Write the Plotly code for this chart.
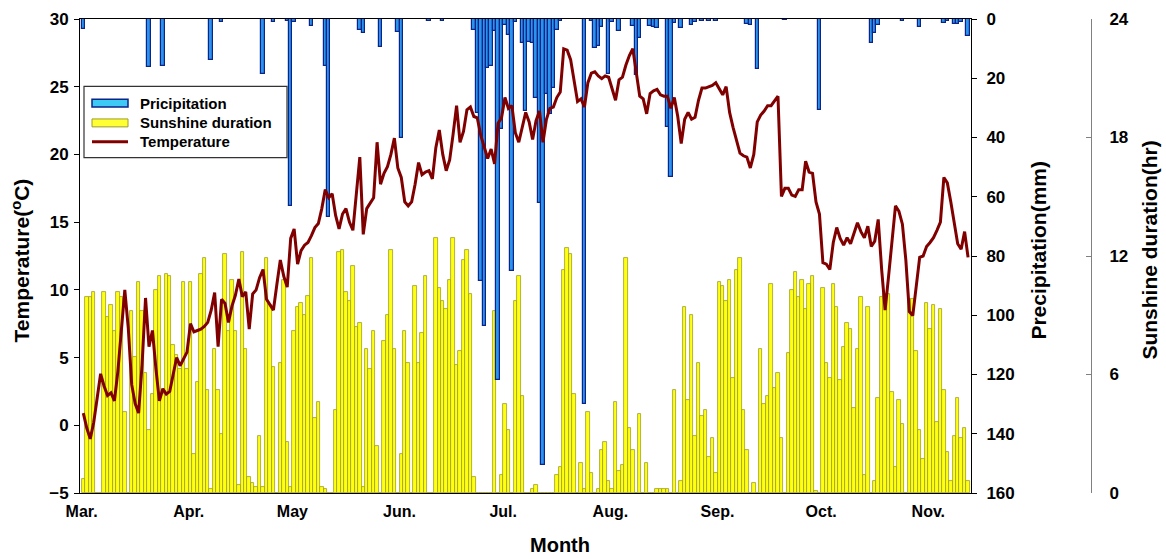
import pandas as pd
import plotly.graph_objects as go

# Daily mean air temperature (°C), 1 March onward
temperature = [
    0.9, -0.2, -1.0, 0.2, 2.0, 3.8, 2.9, 2.2, 2.4, 1.8,
    4.0, 7.0, 10.0, 7.2, 3.0, 1.6, 0.9, 4.5, 9.4, 5.8,
    7.0, 4.2, 1.8, 2.7, 2.3, 2.5, 3.9, 5.0, 4.4, 4.9,
    5.4, 7.5, 6.9, 7.0, 7.1, 7.3, 7.6, 8.5, 9.8, 5.8,
    9.3, 9.0, 7.6, 8.8, 9.6, 10.8, 9.5, 9.85, 7.1, 9.7,
    10.0, 10.9, 11.5, 9.3, 8.9, 8.5, 10.4, 12.2, 11.0, 10.2,
    13.8, 14.5, 11.9, 12.9, 13.3, 13.5, 14.0, 14.6, 14.9, 16.0,
    17.4, 16.8, 17.1, 15.5, 14.5, 15.6, 16.0, 15.0, 14.4, 17.2,
    19.8, 14.1, 16.0, 16.4, 16.8, 20.9, 17.8, 18.6, 19.1, 20.0,
    21.2, 19.0, 18.3, 16.5, 16.2, 16.5, 17.8, 19.4, 18.5, 18.7,
    18.8, 18.2, 20.5, 21.8, 20.0, 18.8, 19.6, 21.5, 23.6, 20.9,
    21.7, 23.3, 23.5, 22.8, 22.7, 21.4, 20.5, 19.7, 20.4, 19.3,
    22.3, 22.7, 24.2, 23.4, 23.6, 21.6, 20.9, 22.0, 23.1, 22.4,
    21.1, 22.5, 23.2, 20.9, 22.6, 23.4, 23.5, 24.2, 24.6, 27.8,
    27.7, 27.0, 25.3, 23.9, 24.1, 23.5, 25.3, 26.0, 26.1, 25.8,
    25.6, 25.8, 25.7, 24.8, 24.0, 25.5, 25.7, 26.6, 27.3, 27.8,
    26.0, 24.3, 24.1, 23.0, 24.5, 24.7, 24.8, 24.4, 24.3, 24.3,
    23.4, 24.2, 22.8, 20.8, 22.6, 23.1, 22.6, 22.75, 24.0, 24.9,
    24.9, 25.0, 25.1, 25.3, 24.8, 24.4, 25.0, 23.1, 22.0, 21.0,
    20.1, 19.9, 19.8, 19.0, 20.0, 22.4, 22.9, 23.2, 23.6, 23.6,
    24.0, 24.3, 16.9, 17.5, 17.5, 17.0, 16.9, 17.4, 17.4, 19.5,
    18.7, 18.6, 16.5, 15.6, 12.0, 11.9, 11.5, 13.5, 14.6, 13.8,
    13.3, 13.85, 13.4, 14.2, 14.95, 14.3, 13.85, 14.7, 13.2, 13.6,
    15.2, 11.5, 8.5, 11.0, 13.5, 16.2, 15.8, 14.85, 12.2, 8.4,
    8.1, 10.5, 12.4, 12.5, 13.2, 13.5, 13.85, 14.4, 15.0, 18.3,
    17.9, 16.5, 15.0, 13.4, 13.0, 14.3, 12.4,
]

# Daily sunshine duration (hr)
sunshine = [
    0.7, 9.9, 9.9, 10.2, 0.0, 0.0, 10.2, 8.9, 9.5, 8.2,
    10.2, 9.9, 4.1, 0.0, 9.2, 6.9, 10.7, 9.2, 6.1, 3.2,
    5.0, 10.3, 11.0, 5.0, 11.1, 11.0, 7.5, 7.0, 6.3, 10.7,
    6.3, 10.7, 2.0, 5.6, 11.1, 11.9, 5.2, 0.2, 7.3, 5.2,
    3.0, 12.1, 8.2, 10.8, 8.2, 0.4, 12.2, 7.3, 0.8, 0.5,
    0.3, 2.9, 0.3, 11.9, 9.5, 6.4, 0.0, 6.6, 10.8, 2.6,
    0.3, 8.2, 9.4, 9.6, 9.0, 10.0, 11.9, 3.8, 4.6, 0.3,
    0.2, 0.0, 0.0, 4.2, 12.2, 12.3, 10.2, 9.7, 11.5, 8.4,
    8.6, 0.3, 7.3, 6.3, 8.2, 2.4, 0.0, 7.7, 9.0, 12.3,
    7.3, 0.0, 2.0, 8.2, 6.6, 0.0, 10.5, 6.6, 8.1, 11.0,
    0.0, 0.0, 12.9, 10.4, 9.7, 9.3, 10.8, 12.9, 6.5, 7.2,
    11.8, 12.3, 10.1, 0.8, 0.0, 0.0, 0.0, 0.0, 0.0, 9.2,
    0.0, 0.9, 4.5, 3.2, 0.0, 9.7, 11.0, 4.9, 0.0, 0.0,
    0.2, 0.4, 0.0, 0.0, 0.0, 0.0, 0.0, 0.9, 1.3, 11.3,
    12.4, 12.1, 5.0, 0.0, 1.5, 0.2, 4.1, 1.0, 0.0, 0.2,
    2.2, 2.6, 0.6, 0.2, 4.6, 1.1, 1.4, 11.9, 3.3, 2.2,
    0.0, 4.0, 0.0, 1.5, 0.0, 0.0, 0.2, 0.2, 0.2, 0.2,
    0.0, 5.2, 0.0, 0.6, 9.4, 4.7, 9.0, 2.9, 6.6, 3.9,
    4.2, 1.8, 2.8, 1.0, 10.7, 10.5, 9.7, 10.8, 5.8, 11.3,
    11.9, 4.2, 2.2, 0.0, 0.5, 0.0, 7.3, 4.5, 4.9, 10.6,
    5.3, 6.1, 2.8, 0.0, 7.1, 10.3, 11.2, 9.9, 10.8, 9.3,
    10.6, 11.0, 0.1, 0.0, 10.4, 6.6, 5.8, 10.6, 9.4, 5.7,
    7.4, 8.6, 8.3, 4.3, 7.3, 9.9, 0.9, 9.4, 0.0, 0.6,
    4.8, 9.9, 10.1, 10.1, 5.1, 1.3, 4.7, 3.5, 0.0, 9.8,
    9.8, 7.2, 3.2, 1.7, 9.6, 8.3, 9.5, 3.6, 9.3, 5.2,
    2.1, 0.6, 2.9, 4.8, 2.8, 3.3, 0.6,
]

# Rainy days (day number counted from 1 March = 1) and daily precipitation (mm)
rain_day = [
    1, 20, 24, 38, 41, 53, 56, 60, 61, 62,
    67, 71, 72, 81, 82, 87, 92, 93, 101, 105,
    114, 115, 116, 117, 118, 119, 120, 121, 122, 123,
    124, 125, 126, 128, 129, 130, 131, 132, 133, 134,
    135, 136, 137, 138, 139, 146, 148, 149, 150, 151,
    153, 154, 156, 160, 161, 162, 165, 166, 167, 170,
    171, 172, 174, 177, 178, 180, 182, 184, 193, 194,
    196, 204, 214, 229, 230, 231, 238, 243, 250, 251,
    253, 254, 255, 257,
]
rain_mm = [
    3.3, 16.3, 15.9, 13.7, 0.9, 18.5, 0.9, 0.7, 63.0, 1.1,
    2.2, 15.9, 67.0, 3.7, 4.8, 9.5, 4.5, 40.1, 0.7, 0.7,
    3.7, 31.8, 88.3, 103.6, 16.5, 15.9, 4.2, 121.7, 37.1, 2.0,
    5.3, 85.0, 1.0, 8.0, 31.0, 7.6, 8.1, 26.5, 62.1, 150.7,
    25.4, 32.1, 23.2, 3.7, 0.8, 130.0, 0.8, 9.8, 9.2, 2.6,
    18.7, 0.9, 4.2, 2.5, 19.0, 6.3, 2.5, 2.7, 2.9, 36.5,
    53.5, 1.4, 3.1, 2.0, 0.9, 0.8, 0.8, 0.7, 1.8, 2.0,
    17.0, 0.5, 30.7, 8.1, 4.8, 2.0, 0.7, 2.6, 1.4, 0.7,
    1.8, 1.8, 1.0, 5.9,
]

month_starts = ["2013-03-01", "2013-04-01", "2013-05-01", "2013-06-01", "2013-07-01",
                "2013-08-01", "2013-09-01", "2013-10-01", "2013-11-01"]
month_labels = ["Mar.", "Apr.", "May", "Jun.", "Jul.", "Aug.", "Sep.", "Oct.", "Nov."]

dates = [d.strftime("%Y-%m-%d %H:%M") for d in
         pd.date_range("2013-03-01 12:00", periods=len(temperature), freq="D")]
rain_dates = [dates[d - 1] for d in rain_day]
DAY_MS = 86400000

FONT = "Liberation Sans, Arial, sans-serif"
W, H = 1166, 559
ML, MR, MT, MB = 80, 10, 14, 66
PW = W - ML - MR
PH = H - MT - MB
PLOT_RIGHT = 971
SUN_AXIS_X = 1091

RAIN_FILL = "#2A93EE"
RAIN_EDGE = "#0C2388"
SUN_FILL = "#FFFF10"
SUN_EDGE = "#9C9C2A"
TEMP_COLOR = "#800000"


def px(x):
    return (x - ML) / PW


def py(y):
    return (H - MB - y) / PH


ytick_font = dict(family=FONT, size=17, color="black", weight="bold")
xtick_font = dict(family=FONT, size=16, color="black", weight="bold")

fig = go.Figure()

# carrier trace for the left temperature axis (kept invisible, drawn again on top later)
fig.add_trace(go.Scatter(
    x=dates, y=temperature, yaxis="y", mode="lines",
    line=dict(color="rgba(0,0,0,0)", width=0), hoverinfo="skip", showlegend=False,
))
fig.add_trace(go.Bar(
    x=dates, y=sunshine, yaxis="y2", width=DAY_MS,
    marker=dict(color=SUN_FILL, line=dict(color=SUN_EDGE, width=0.8)),
    name="Sunshine duration", showlegend=False,
))
fig.add_trace(go.Bar(
    x=rain_dates, y=rain_mm, yaxis="y3", width=DAY_MS,
    marker=dict(color=RAIN_FILL, line=dict(color=RAIN_EDGE, width=1.2)),
    name="Pricipitation", showlegend=False,
))
fig.add_trace(go.Scatter(
    x=dates, y=temperature, yaxis="y4", mode="lines",
    line=dict(color=TEMP_COLOR, width=3),
    name="Temperature", showlegend=False,
))

# hand-drawn legend box
shapes = [
    dict(type="rect", xref="paper", yref="paper",
         x0=px(84), x1=px(287), y0=py(154), y1=py(82),
         line=dict(color="#333333", width=1.2), fillcolor="white", layer="above"),
    dict(type="rect", xref="paper", yref="paper",
         x0=px(92), x1=px(128), y0=py(103), y1=py(95),
         line=dict(color=RAIN_EDGE, width=1.5), fillcolor="#3DCBF5", layer="above"),
    dict(type="rect", xref="paper", yref="paper",
         x0=px(92), x1=px(128), y0=py(123), y1=py(115),
         line=dict(color=SUN_EDGE, width=1), fillcolor="#FFFF33", layer="above"),
    dict(type="line", xref="paper", yref="paper",
         x0=px(92), x1=px(128), y0=py(138), y1=py(138),
         line=dict(color=TEMP_COLOR, width=3), layer="above"),
]

annotations = []
for label, yc in [("Pricipitation", 99), ("Sunshine duration", 119), ("Temperature", 138)]:
    annotations.append(dict(
        xref="paper", yref="paper", x=px(138), y=py(yc), text=f"<b>{label}</b>",
        showarrow=False, xanchor="left", yanchor="middle",
        font=dict(family=FONT, size=15, color="black"),
    ))

title_font = dict(family=FONT, size=21, color="black")
annotations += [
    dict(xref="paper", yref="paper", x=px(21), y=py(258),
         text="<b>Temperature(<sup>o</sup>C)</b>", textangle=-90, showarrow=False,
         xanchor="center", yanchor="middle", font=title_font),
    dict(xref="paper", yref="paper", x=px(1039), y=py(248),
         text="<b>Precipitation(mm)</b>", textangle=-90, showarrow=False,
         xanchor="center", yanchor="middle", font=title_font),
    dict(xref="paper", yref="paper", x=px(1150), y=py(248),
         text="<b>Sunshine duration(hr)</b>", textangle=-90, showarrow=False,
         xanchor="center", yanchor="middle", font=title_font),
    dict(xref="paper", yref="paper", x=px(560), y=py(546),
         text="<b>Month</b>", showarrow=False,
         xanchor="center", yanchor="middle", font=dict(family=FONT, size=20, color="black")),
]

fig.update_layout(
    width=W, height=H,
    margin=dict(l=ML, r=MR, t=MT, b=MB),
    paper_bgcolor="white", plot_bgcolor="white",
    bargap=0, barmode="overlay",
    showlegend=False,
    shapes=shapes, annotations=annotations,
    xaxis=dict(
        type="date", domain=[0, px(PLOT_RIGHT)],
        range=["2013-02-28 12:53", "2013-11-13 08:24"],
        tickvals=month_starts, ticktext=month_labels, ticks="",
        showline=True, linecolor="black", linewidth=1, mirror=True,
        showgrid=False, zeroline=False, tickfont=xtick_font, ticklabelstandoff=4,
    ),
    yaxis=dict(
        range=[-5, 30], tick0=-5, dtick=5, ticks="outside", ticklen=5,
        tickcolor="black", showline=True, linecolor="black", linewidth=1,
        showgrid=False, zeroline=False, tickfont=ytick_font, ticklabelstandoff=2,
    ),
    yaxis2=dict(
        overlaying="y", anchor="free", position=px(SUN_AXIS_X), side="right",
        range=[0, 24], tick0=0, dtick=6, ticks="inside", ticklen=5,
        tickcolor="#808080", showline=True, linecolor="#808080", linewidth=1,
        showgrid=False, zeroline=False, tickfont=ytick_font, ticklabelstandoff=14,
    ),
    yaxis3=dict(
        overlaying="y", anchor="x", side="right",
        range=[160, 0], tick0=0, dtick=20, ticks="outside", ticklen=5,
        tickcolor="black", showline=True, linecolor="black", linewidth=1,
        showgrid=False, zeroline=False, tickfont=ytick_font, ticklabelstandoff=6,
    ),
    yaxis4=dict(overlaying="y", range=[-5, 30], visible=False),
)

fig.write_html("out.html")
